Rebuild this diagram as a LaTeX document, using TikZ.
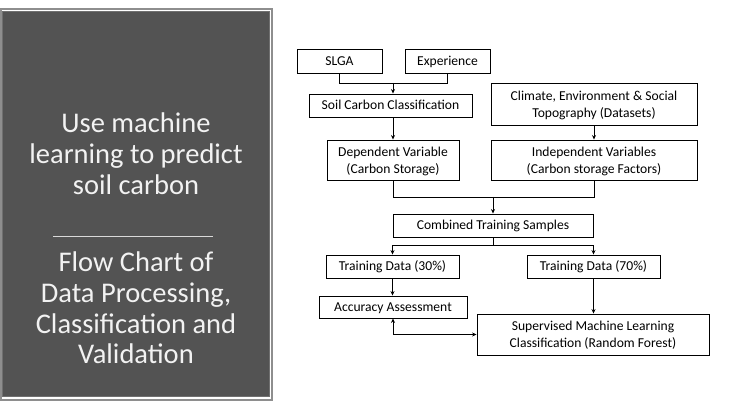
\documentclass[tikz,border=0pt]{standalone}
\usepackage{fontspec}
\setmainfont{Carlito}
\usetikzlibrary{arrows.meta}
\definecolor{panelfill}{HTML}{535353}
\definecolor{panelframe}{HTML}{8E8E8E}
\definecolor{panelinner}{HTML}{707070}
\definecolor{paneltext}{HTML}{F2F2F2}
\definecolor{sepline}{HTML}{D9D9D9}
\begin{document}
\begin{tikzpicture}[x=1pt,y=-1pt,
  box/.style={draw=black,line width=0.9pt,fill=white,inner sep=0pt,align=center,
              font=\fontsize{13.6}{17}\selectfont},
  onebox/.style={box,text height=8.8pt,text depth=0.3pt},
  twobox/.style={box,text depth=-2.5pt},
  conn/.style={draw=black,line width=0.9pt},
  arr/.style={conn,-{Stealth[length=4.5pt,width=4pt]}},
  biarr/.style={conn,{Stealth[length=4.5pt,width=4pt]}-{Stealth[length=4.5pt,width=4pt]}},
  paneltxt/.style={text=paneltext,align=center,inner sep=0pt,
              font=\fontsize{28.5}{30.8}\selectfont}
]
\useasboundingbox (0,0) rectangle (737,411);
\fill[white] (0,0) rectangle (737,411);
% left panel
\draw[panelframe,line width=2pt] (0.5,9) rectangle (272,400);
\filldraw[fill=panelfill,draw=panelinner,line width=1pt] (2.5,11.5) rectangle (269,397);
\node[paneltxt] (title) at (136,154) {Use machine\\learning to predict\\soil carbon};
\draw[sepline,line width=0.8pt] (53,236) -- (213,236);
\node[paneltxt] (sub) at (136,308) {Flow Chart of\\Data Processing,\\Classification and\\Validation};
% boxes
\node[onebox,minimum width=85pt,minimum height=24pt] (slga) at (339.5,61) {SLGA};
\node[onebox,minimum width=85pt,minimum height=24pt] (exp) at (447.5,61) {Experience};
\node[onebox,minimum width=163pt,minimum height=23pt] (soil) at (390.5,105.5) {Soil Carbon Classification};
\node[twobox,minimum width=206pt,minimum height=42pt] (clim) at (594,104) {Climate, Environment \& Social\\Topography (Datasets)};
\node[twobox,minimum width=132pt,minimum height=40pt] (dep) at (393,160) {Dependent Variable\\(Carbon Storage)};
\node[twobox,minimum width=206pt,minimum height=40pt] (indep) at (594,160) {Independent Variables\\(Carbon storage Factors)};
\node[onebox,minimum width=200pt,minimum height=23pt] (comb) at (493,225.5) {Combined Training Samples};
\node[onebox,minimum width=133pt,minimum height=23pt] (t30) at (392.5,266.5) {Training Data (30\%)};
\node[onebox,minimum width=133pt,minimum height=23pt] (t70) at (593.5,266.5) {Training Data (70\%)};
\node[onebox,minimum width=148pt,minimum height=22pt] (acc) at (393,307) {Accuracy Assessment};
\node[twobox,minimum width=232pt,minimum height=41pt] (sup) at (593,334.5) {Supervised Machine Learning\\Classification (Random Forest)};
% connectors
\coordinate (m1) at (393,83);
\draw[conn] (slga.south) -- (slga.south |- m1) -- (exp.south |- m1) -- (exp.south);
\draw[arr] (m1) -- (m1 |- soil.north);
\draw[arr] (soil.south -| dep.north) -- (dep.north);
\draw[arr] (clim.south) -- (indep.north);
\coordinate (m2) at (493,197);
\draw[conn] (dep.south) -- (dep.south |- m2) -- (indep.south |- m2) -- (indep.south);
\draw[arr] (m2) -- (comb.north);
\coordinate (m3) at (493,245);
\draw[conn] (comb.south) -- (m3);
\draw[arr] (m3) -| (t30.north);
\draw[arr] (m3) -| (t70.north);
\draw[arr] (t30.south) -- (t30.south |- acc.north);
\draw[arr] (t70.south) -- (t70.south |- sup.north);
\draw[biarr] (acc.south) |- (sup.west);
\end{tikzpicture}
\end{document}
